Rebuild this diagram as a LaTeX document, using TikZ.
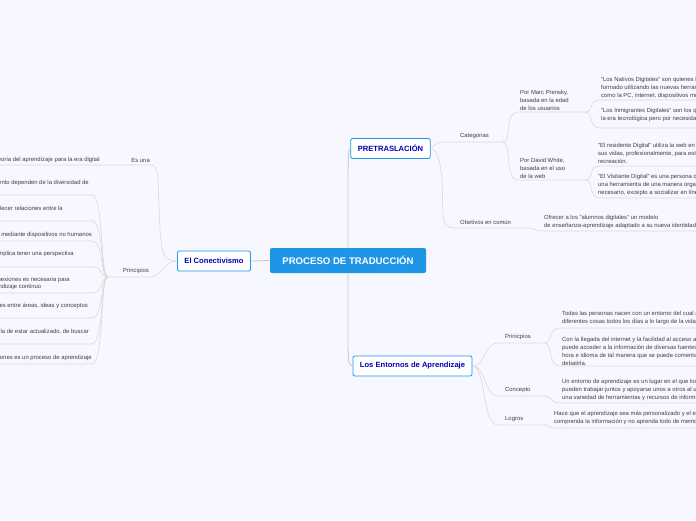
\documentclass[tikz,border=0pt]{standalone}
\usepackage{fontspec}
\setmainfont{Liberation Sans}
\definecolor{mainblue}{HTML}{1E95E6}
\begin{document}
\begin{tikzpicture}[x=1pt,y=-1pt,
  txt/.style={font=\fontsize{5.9}{8}\selectfont,text=black!75,anchor=west,align=left,inner sep=0},
  br/.style={draw=black!22,line width=0.8pt},
  ln/.style={draw=black!15,line width=0.6pt},
  main/.style={draw=mainblue,line width=0.8pt,fill=white,rounded corners=2pt,font=\fontsize{7.6}{9}\selectfont\bfseries,text=blue!70!black,minimum height=20pt,inner xsep=7pt}]
\useasboundingbox (0,0) rectangle (696,520);
\fill[blue!3] (0,0) rectangle (696,520);
\clip (0,0) rectangle (696,520);
\node[fill=mainblue,rounded corners=2pt,text=white,font=\fontsize{9.6}{11}\selectfont\bfseries,minimum width=156pt,minimum height=25pt] (c) at (348,260.5) {PROCESO DE TRADUCCIÓN};
\node[main] (p) at (390.5,148.5) {PRETRASLACIÓN};
\node[main] (e) at (412.5,366) {Los Entornos de Aprendizaje};
\node[main] (k) at (214,261) {El Conectivismo};
\draw[br] (348,248) -- (348,200) .. controls (348,160) and (348,150) .. (p.west);
\draw[br] (348,273) -- (348,330) .. controls (348,360) and (348,366) .. (e.west);
\draw[br] (k.east) -- (c.west);
% ---------- left
\node[txt,anchor=east] (esuna) at (150,160) {Es una};
\node[txt,anchor=east] (princ) at (149,271) {Principios};
\draw[ln] (k.west) .. controls (162,261) and (162,250) .. (160,230) -- (158,180) .. controls (157,167) and (155,165) .. (150,165) -- (0,165);
\draw[ln] (k.west) .. controls (165,261) and (160,277) .. (150,277) -- (108,277);
\node[txt,anchor=east] (l0) at (100,160) {Teoría del aprendizaje para la era digital};
\foreach \t/\ty/\ly/\rx in {{El aprendizaje y el conocimiento dependen de la diversidad de}/183/195/89,
  {El aprendizaje es un proceso de conectar y establecer relaciones entre la}/209/221/63,
  {El aprendizaje puede residir mediante dispositivos no humanos}/235/241/92,
  {La capacidad de aprender más implica tener una perspectiva}/254/267/74,
  {Alimentar y mantener conexiones es necesaria para}/280/293/70,
  {La habilidad de ver conexiones entre áreas, ideas y conceptos}/306/318/88,
  {La intención es la de estar actualizado, de buscar}/332/344/89,
  {La toma de decisiones es un proceso de aprendizaje}/358/364/92}{
  \node[txt,anchor=east] at (\rx,\ty) {\t};
  \draw[ln] (0,\ly) -- (92,\ly) .. controls (104,\ly) and (100,277) .. (108,277);
}
\node[txt,anchor=west] at (-40,287) {facilitar el aprendizaje continuo};
% ---------- PRETRASLACIÓN
\node[txt] (cat) at (460,136) {Categorias};
\draw[ln] (p.east) .. controls (438,142) and (440,142) .. (446,142) -- (503,142);
\node[txt] (mp) at (520,100) {Por Marc Prensky,\\basada en la edad\\de los usuarios};
\node[txt] (dw) at (520,168) {Por David White,\\basada en el uso\\de la web};
\draw[ln] (503,142) .. controls (512,142) and (504,112) .. (518,112) -- (585,112);
\draw[ln] (503,142) .. controls (512,142) and (504,180) .. (518,180) -- (585,180);
\node[txt] at (601,88) {"Los Nativos Digitales" son quienes han nacido y se han\\formado utilizando las nuevas herramientas tecnológicas\\como la PC, internet, dispositivos móviles};
\node[txt] at (601,115) {"Los Inmigrantes Digitales" son los que llegaron a\\la era tecnológica pero por necesidad};
\node[txt] at (598,153) {"El residente Digital" utiliza la web en muchos aspectos de\\sus vidas, profesionalmente, para estudiar y para\\recreación.};
\node[txt] at (598,185) {"El Visitante Digital" es una persona que entiende la web como\\una herramienta de una manera organizada y solo cuando es\\necesario, excepto a socializar en línea};
\draw[ln] (585,112) .. controls (594,112) and (588,100) .. (600,100) -- (696,100);
\draw[ln] (585,112) .. controls (594,112) and (588,128) .. (600,128) -- (696,128);
\draw[ln] (585,180) .. controls (594,180) and (588,166) .. (600,166) -- (696,166);
\draw[ln] (585,180) .. controls (594,180) and (588,198) .. (600,198) -- (696,198);
\node[txt] (ob) at (460,222) {Obetivos en común};
\draw[ln] (p.east) .. controls (438,150) and (440,160) .. (442,180) -- (443,215) .. controls (444,226) and (448,228) .. (455,228) -- (528,228);
\node[txt] at (544,222) {Ofrecer a los "alumnos digitales" un modelo\\de enseñanza-aprendizaje adaptado a su nueva identidad};
\draw[ln] (528,228) .. controls (534,228) and (535,231) .. (544,231) -- (696,231);
% ---------- Entornos
\node[txt] (ep) at (505,337) {Prinicpios};
\node[txt] (ec) at (505,390) {Concepto};
\node[txt] (el) at (505,419) {Logros};
\draw[ln] (e.east) .. controls (486,366) and (484,343) .. (498,343) -- (545,343);
\draw[ln] (e.east) .. controls (486,366) and (484,396) .. (498,396) -- (545,396);
\draw[ln] (e.east) .. controls (486,366) and (482,425) .. (498,425) -- (545,425);
\node[txt] at (562,318) {Todas las personas nacen con un entorno del cual aprenden\\diferentes cosas todos los días a lo largo de la vida};
\node[txt] at (562,351) {Con la llegada del internet y la facilidad al acceso a él, se\\puede acceder a la información de diversas fuentes a cualquier\\hora e idioma de tal manera que se puede comentar y\\debatirla.};
\node[txt] at (562,390) {Un entorno de aprendizaje es un lugar en el que los estudiantes\\pueden trabajar juntos y apoyarse unos a otros al usar\\una variedad de herramientas y recursos de información};
\node[txt] at (554,418) {Hace que el aprendizaje sea más personalizado y el estudiante\\comprenda la información y no aprenda todo de memoria};
\draw[ln] (545,343) .. controls (552,343) and (548,328) .. (560,328) -- (696,328);
\draw[ln] (545,343) .. controls (552,343) and (548,366) .. (560,366) -- (696,366);
\draw[ln] (545,396) .. controls (552,396) and (550,403) .. (560,403) -- (696,403);
\draw[ln] (545,425) .. controls (550,425) and (548,428) .. (554,428) -- (696,428);
\end{tikzpicture}
\end{document}
